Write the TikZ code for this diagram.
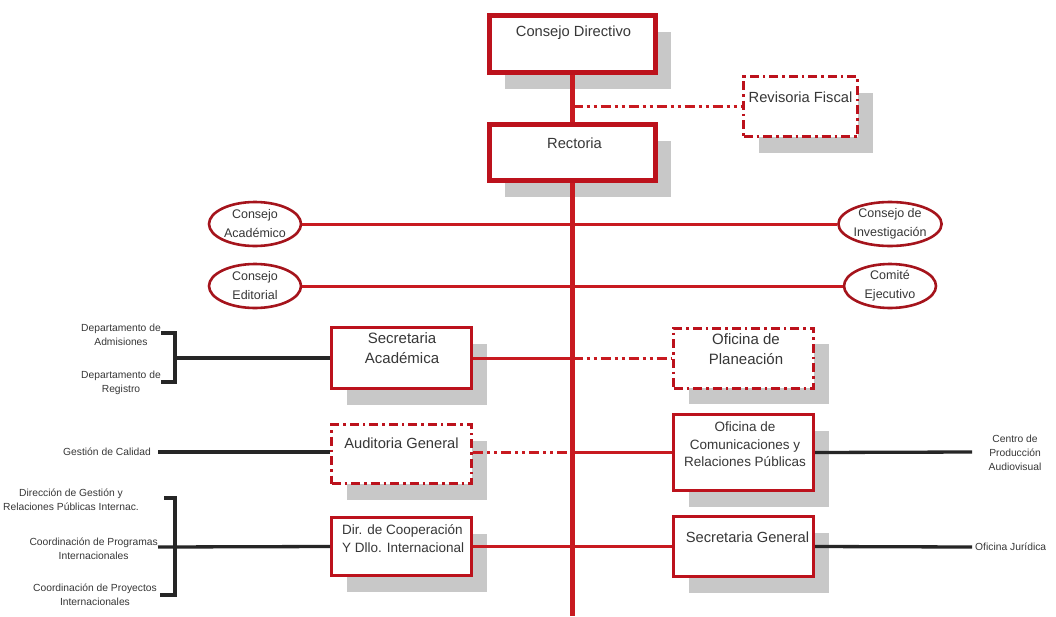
\documentclass[tikz,border=0pt]{standalone}
\usepackage{fontspec}
\setmainfont{Liberation Sans}
\usetikzlibrary{shapes.geometric}
\definecolor{bred}{RGB}{188,18,28}
\definecolor{lred}{RGB}{200,26,32}
\definecolor{ered}{RGB}{165,20,28}
\definecolor{shgray}{RGB}{200,200,200}
\definecolor{txt}{RGB}{55,55,55}
\tikzset{
  shadowed/.style={preaction={fill=shgray,draw=none,transform canvas={shift={(15pt,-16pt)}}}},
  orgbox/.style={shadowed,draw=bred,fill=white,line width=3pt,inner sep=0pt,minimum width=140pt,minimum height=60pt},
  topbox/.style={orgbox,line width=5pt,minimum width=166pt,minimum height=57pt},
  dbox/.style={orgbox,dash pattern=on 9pt off 4pt on 2.5pt off 4pt},
  council/.style={ellipse,draw=ered,line width=2.6pt,fill=white,inner sep=0pt,minimum width=92pt,minimum height=44pt,
    text=txt,align=center,font=\fontsize{12.5}{19}\selectfont},
  lbl/.style={text=txt,align=center,inner sep=0pt,font=\fontsize{14.7}{17}\selectfont},
  lblb/.style={text=txt,align=center,inner sep=0pt,font=\fontsize{15}{20}\selectfont},
  lblm/.style={text=txt,align=center,inner sep=0pt,font=\fontsize{13.5}{17.5}\selectfont},
  small/.style={text=txt,align=center,inner sep=0pt,font=\fontsize{10.3}{14}\selectfont},
  trunk/.style={draw=lred,line width=4.2pt},
  rline/.style={draw=lred,line width=3pt},
  ddline/.style={draw=lred,line width=3pt,dash pattern=on 10pt off 4pt on 3pt off 4pt on 3pt off 4pt},
  bline/.style={draw=black!85,line width=3.3pt}
}
\begin{document}
\begin{tikzpicture}[x=1pt,y=-1pt]
\useasboundingbox[fill=white] (0,0) rectangle (1056,616);

% top boxes
\node[topbox] (cd) at (572.5,44) {};
\node[lbl] (cdt) at (573.5,33) {Consejo Directivo};
\node[topbox,minimum height=56pt] (rc) at (572.5,152.5) {};
\node[lbl] (rct) at (574.5,143) {Rectoria};
\node[dbox,minimum width=114pt,minimum height=60pt] (rv) at (800.5,106.5) {};
\node[lbl] (rvt) at (800.5,97) {Revisoria Fiscal};

\coordinate (bot) at (572.5,616);

% councils
\node[council] (ca) at (255,224) {Consejo\\Académico};
\node[council] (ci) at (890,224) {Consejo de\\Investigación};
\node[council] (ce) at (255,286) {Consejo\\Editorial};
\node[council] (cj) at (890,286) {Comité\\Ejecutivo};

% lower boxes
\node[orgbox,minimum height=61pt] (sa) at (401.5,358) {};
\node[lblb] (sat) at (402,348) {Secretaria\\Académica};
\node[dbox] (op) at (743.5,358) {};
\node[lblb] (opt) at (746,349) {Oficina de\\Planeación};
\node[dbox,minimum height=59pt] (ag) at (401.5,454) {};
\node[lbl] (agt) at (401.5,443) {Auditoria General};
\node[orgbox,minimum height=76pt] (oc) at (743.5,452.5) {};
\node[lblm] (oct) at (745,444.5) {Oficina de\\Comunicaciones y\\Relaciones Públicas};
\node[orgbox,minimum height=58pt] (dc) at (401.5,546.5) {};
\node[lblm,align=left,anchor=west] (dct) at (342,538.5) {Dir. de Cooperación\\Y Dllo. Internacional};
\node[orgbox] (sg) at (743.5,546.5) {};
\node[lbl] (sgt) at (747.5,537) {Secretaria General};

% trunk and red connectors
\draw[trunk] (cd.south) -- (rc.north);
\draw[trunk] (rc.south) -- (bot);
\draw[ddline] (cd.south |- rv.west) -- (rv.west);
\draw[rline] (ca.east) -- (ci.west);
\draw[rline] (ce.east) -- (cj.west);
\draw[rline] (sa.east) -- (sa.east -| bot);
\draw[ddline] (sa.east -| bot) -- (op.west);
\draw[ddline] (ag.east |- oc.west) -- (oc.west -| bot);
\draw[rline] (oc.west -| bot) -- (oc.west);
\draw[rline] (dc.east) -- (sg.west);

% left side: Secretaria Academica
\coordinate (b1) at (175,358);
\coordinate (b1t) at (175,333);
\coordinate (b1b) at (175,382);
\node[small,anchor=east] (da) at (161,334.5) {Departamento de\\Admisiones};
\node[small,anchor=east] (dr) at (161,382.5) {Departamento de\\Registro};
\draw[bline] (sa.west) -- (b1);
\draw[bline] (da.north east |- b1t) -- (b1t) -- (b1b) -- (dr.north east |- b1b);

% Gestion de Calidad
\node[small,anchor=east] (gc) at (151,452) {Gestión de Calidad};
\coordinate (gce) at (158,452);
\draw[bline] (gce) -- (ag.west |- gce);

% left side: Dir. de Cooperacion
\coordinate (b2) at (175,547);
\coordinate (b2t) at (175,498);
\coordinate (b2b) at (175,595);
\node[small,anchor=east] (dg) at (139,500) {Dirección de Gestión y\\Relaciones Públicas Internac.};
\node[small,anchor=east] (cp) at (158,548.5) {Coordinación de Programas\\Internacionales};
\node[small,anchor=east] (cy) at (157,594.5) {Coordinación de Proyectos\\Internacionales};
\coordinate (s2t) at (164,498);
\coordinate (s2b) at (160,595);
\draw[bline] (dc.west) -- (cp.east |- b2);
\draw[bline] (s2t) -- (b2t) -- (b2b) -- (s2b);

% right side
\coordinate (cpe) at (972,452);
\node[small] (cpa) at (1015,452.5) {Centro de\\Producción\\Audiovisual};
\draw[bline] (oc.east) -- (cpe);
\coordinate (oje) at (972,547);
\node[small,anchor=west] (oj) at (975,547) {Oficina Jurídica};
\draw[bline] (sg.east) -- (oje);
\end{tikzpicture}
\end{document}
